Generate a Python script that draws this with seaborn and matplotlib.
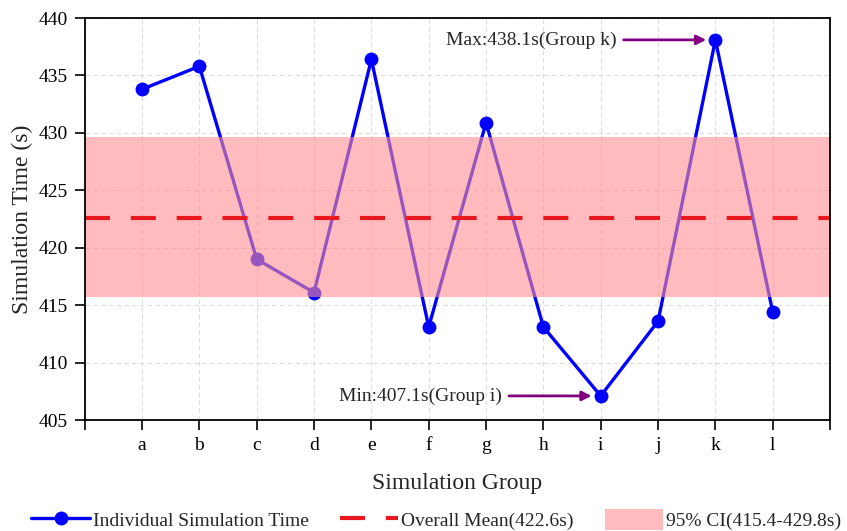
import numpy as np
import matplotlib.pyplot as plt
import seaborn as sns

groups = ['a', 'b', 'c', 'd', 'e', 'f', 'g', 'h', 'i', 'j', 'k', 'l']
sim_time = [433.8, 435.8, 419.0, 416.1, 436.4, 413.1, 430.9, 413.1, 407.1, 413.6, 438.1, 414.4]
mean_time = 422.6
ci_low, ci_high = 415.7, 429.6
ci_text = (415.4, 429.8)


def main():
    sns.set_style('ticks')
    plt.rcParams['font.family'] = ['Liberation Serif', 'DejaVu Serif']

    pos = np.arange(len(groups))
    fig, ax = plt.subplots(figsize=(8.47, 5.31), dpi=100)
    fig.subplots_adjust(left=0.100, right=0.980, top=0.966, bottom=0.209)

    sns.lineplot(x=pos, y=sim_time, ax=ax, color='blue', lw=2.4, marker='o',
                 markersize=10, markeredgewidth=0, label='Individual Simulation Time', zorder=2)
    ax.axhspan(ci_low, ci_high, color=(1.0, 0.56, 0.58), alpha=0.6, lw=0, zorder=3,
               label='95% CI({:.1f}-{:.1f}s)'.format(*ci_text))
    ax.axhline(mean_time, color='#e8191e', lw=3, ls=(0, (6, 5)), zorder=4,
               label='Overall Mean({:.1f}s)'.format(mean_time))

    # min / max callouts
    i_max = int(np.argmax(sim_time))
    i_min = int(np.argmin(sim_time))
    for idx, tag in [(i_max, 'Max'), (i_min, 'Min')]:
        ax.annotate('{}:{:.1f}s(Group {})'.format(tag, sim_time[idx], groups[idx]),
                    xy=(idx - 0.16, sim_time[idx]), xytext=(idx - 1.73, sim_time[idx]),
                    ha='right', va='center', fontsize=14, zorder=6,
                    arrowprops=dict(arrowstyle='-|>', color='purple', lw=2,
                                    mutation_scale=14, shrinkA=3, shrinkB=0))

    ax.set_xlim(-1, len(groups))
    ax.set_xticks(np.arange(-1, len(groups) + 1))
    ax.set_xticklabels([''] + groups + [''])
    ax.set_ylim(405, 440)
    ax.set_yticks(np.arange(405, 441, 5))
    ax.tick_params(direction='out', length=7, width=1.2, labelsize=14, colors='black', pad=5)
    for s in ax.spines.values():
        s.set_linewidth(1.3)
        s.set_color('black')
        s.set_zorder(10)
    ax.set_axisbelow(True)
    ax.grid(True, ls=(0, (4, 3)), color='#dcdcdc', lw=0.8)

    ax.set_xlabel('Simulation Group', fontsize=17, labelpad=14)
    ax.set_ylabel('Simulation Time (s)', fontsize=17, labelpad=4)

    h, l = ax.get_legend_handles_labels()
    order = [l.index('Individual Simulation Time'),
             l.index('Overall Mean({:.1f}s)'.format(mean_time)),
             [k for k, t in enumerate(l) if t.startswith('95%')][0]]
    ax.legend().remove()
    fig.legend([h[k] for k in order], [l[k] for k in order], loc='lower center',
               bbox_to_anchor=(0.515, -0.032), ncol=3, frameon=False, fontsize=14,
               handlelength=3.0, handleheight=1.3, handletextpad=0.15, columnspacing=1.6)

    fig.savefig('out.png', dpi=100)


if __name__ == '__main__':
    main()
